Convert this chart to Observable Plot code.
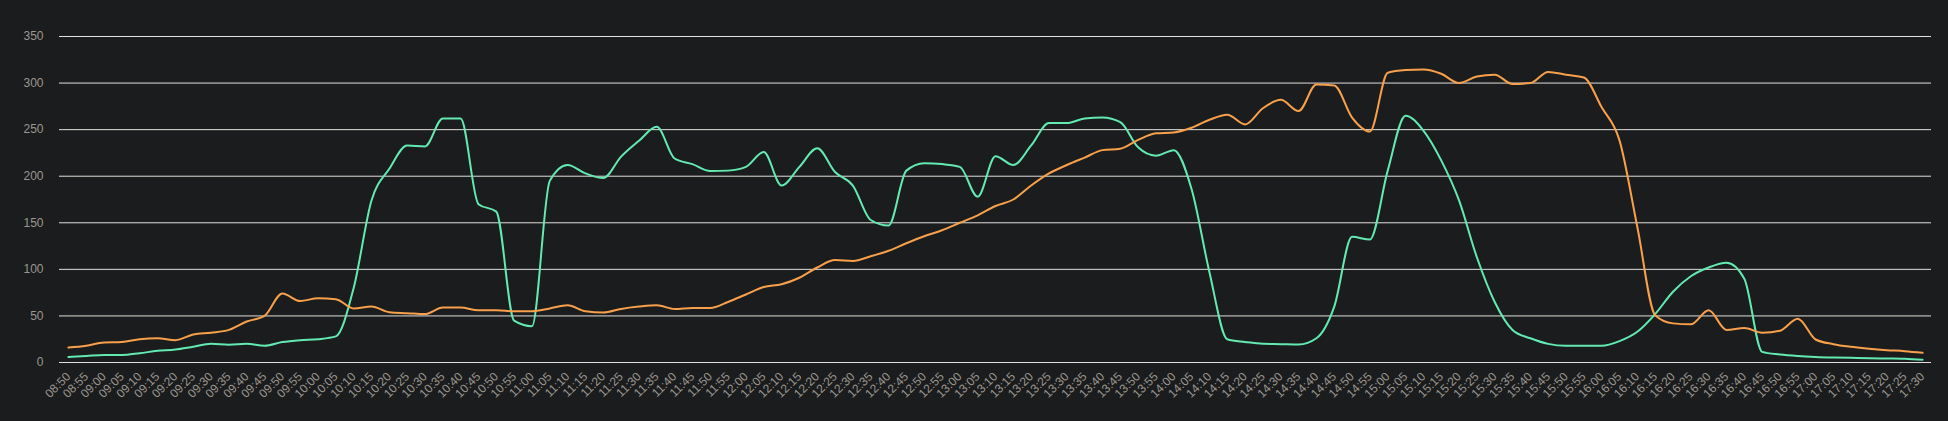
<!DOCTYPE html>
<html><head><meta charset="utf-8">
<script src="https://cdn.jsdelivr.net/npm/d3@7"></script>
<script src="https://cdn.jsdelivr.net/npm/@observablehq/plot@0.6"></script>
<style>
html,body{margin:0;padding:0;background:#1b1c1e;overflow:hidden;}
</style></head><body><div id="chart"></div>
<script>
const times = ["08:50","08:55","09:00","09:05","09:10","09:15","09:20","09:25","09:30","09:35","09:40","09:45","09:50","09:55",
"10:00","10:05","10:10","10:15","10:20","10:25","10:30","10:35","10:40","10:45","10:50","10:55",
"11:00","11:05","11:10","11:15","11:20","11:25","11:30","11:35","11:40","11:45","11:50","11:55",
"12:00","12:05","12:10","12:15","12:20","12:25","12:30","12:35","12:40","12:45","12:50","12:55",
"13:00","13:05","13:10","13:15","13:20","13:25","13:30","13:35","13:40","13:45","13:50","13:55",
"14:00","14:05","14:10","14:15","14:20","14:25","14:30","14:35","14:40","14:45","14:50","14:55",
"15:00","15:05","15:10","15:15","15:20","15:25","15:30","15:35","15:40","15:45","15:50","15:55",
"16:00","16:05","16:10","16:15","16:20","16:25","16:30","16:35","16:40","16:45","16:50","16:55",
"17:00","17:05","17:10","17:15","17:20","17:25","17:30"];
const orangeSeries = [16,18,21.5,22,25,26,24,30,32,35,44,50,74,66,69,68,58,60,
54,53,52,59,59,56,56,55,55,58,61.5,55,53.6,57.5,60,61.5,57.5,
58.6,58.6,65,73,81,84,91,102,110,109,114,120,128,135.5,142,150,158,168,
175,190,203,212,220,228,229.5,239,246,247,252,260.6,266,255.6,273,282,270,
298.5,297.5,263,248,311,314,314.6,310,300,307,309,299,300,312,309,306,274,238.5,
145.5,50.8,42,41,56,35,37,32,34,47,24.7,19.7,16.8,14.7,13.2,12.2,10.4];
const greenSeries = [6,7,8,8,10,12.5,14,17,20,19,20,18,22,24,25,28,80,174,
208,233,232,262,262,170,162,45,39,195,212,203,198,221,238,253,219,
213,205.5,206,210,226,190,210,230,204.5,190,153,147,206,214,213,210,178,221.5,
212,233,257,257,262,263,258,231,222,228,186,97,25,22,20,19.7,19.3,
26,60,135,132,206,265,249,217,174,113,65,35,26,20,18,18,18,23,
33,52,76,92.6,102,107,90,11.4,8.6,7,6,5.4,5,4.6,4.3,4,2.9];
const yTicks = [0,50,100,150,200,250,300,350];

const orangeData = times.map((t,i)=>({t, v: orangeSeries[i]}));
const greenData = times.map((t,i)=>({t, v: greenSeries[i]}));

const chart = Plot.plot({
  width:1948, height:421,
  marginLeft:59, marginRight:17, marginTop:36, marginBottom:59,
  style:{background:"#1b1c1e", color:"#9b978f", fontFamily:"'Liberation Sans', Arial, sans-serif", fontSize:"12px"},
  x:{type:"point", domain: times, padding:0.5, label:null},
  y:{domain:[0,350], label:null},
  marks:[
    Plot.ruleY(yTicks,{stroke:"#e2e0dc", strokeWidth:1}),
    Plot.axisY({ticks:yTicks, tickSize:0, tickPadding:16, label:null, fill:"#9b978f"}),
    Plot.axisX({tickSize:0, tickRotate:-45, tickPadding:12, label:null, fill:"#9b978f"}),
    Plot.line(greenData, {x:"t", y:"v", stroke:"#63eab2", strokeWidth:2, curve:"monotone-x"}),
    Plot.line(orangeData, {x:"t", y:"v", stroke:"#f8a04b", strokeWidth:2, curve:"monotone-x"})
  ]
});
document.getElementById("chart").appendChild(chart);
</script></body></html>
